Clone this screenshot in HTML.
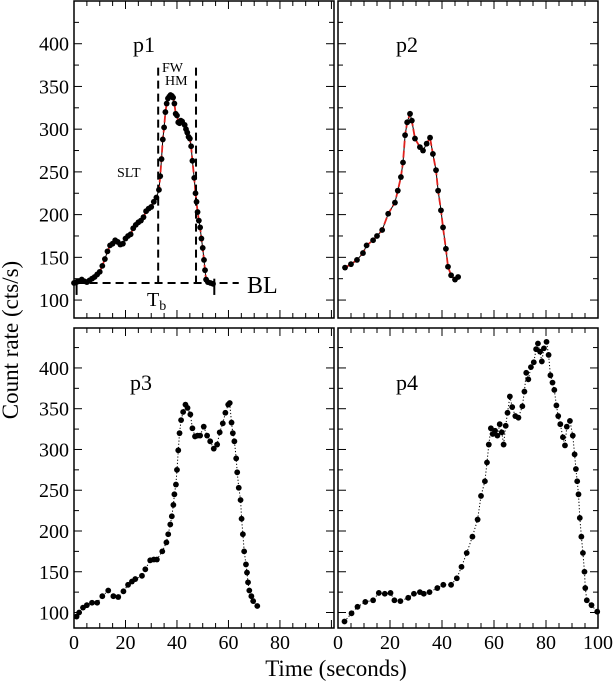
<!DOCTYPE html>
<html><head><meta charset="utf-8"><style>
html,body{margin:0;padding:0;background:#fff;}
svg{display:block;font-family:"Liberation Serif",serif;}
</style></head><body>
<svg id="chart" width="616" height="684" viewBox="0 0 616 684" xmlns="http://www.w3.org/2000/svg">
<text x="0" y="0" font-size="23" text-anchor="middle" transform="translate(18,340) rotate(-90)">Count rate (cts/s)</text>
<text x="336" y="676" font-size="23" text-anchor="middle">Time (seconds)</text>
</svg>
<script>
const yTicks=[100,150,200,250,300,350,400];
const xTicks=[0,20,40,60,80,100];
const panelNames=["p1","p2","p3","p4"];

const t1=[0,1,2,3,4,5,6,7,8,9,10,11,12,13,14,15,16,17,18,19,20,21,22,23,24,25,26,27,28,29,30,31,32,33,33.5,34,34.5,35,35.5,36,36.5,37,37.5,38,38.5,39,39.5,40,40.5,41,41.5,42,43,43.5,44,44.5,45,45.5,46,46.7,47.2,47.6,48,48.5,49,49.5,50,50.5,50.9,51.3,52,53,54];
const c1=[120,121,122,124,122,121,123,125,127,130,133,140,148,157,164,166,170,168,165,166,172,175,177,184,188,191,193,197,204,207,209,215,220,229,245,265,288,302,320,330,336,338,340,339,337,330,318,316,308,307,310,309,305,300,296,291,289,280,263,243,225,215,203,193,185,172,161,147,135,124,121,120,119];

const t2=[2.7,5,7.3,9.6,11,13.5,15,17,19.3,21.9,23,24.2,25,25.8,26.6,27.7,28.4,29.6,31.5,32.7,34.1,35.4,36.5,37.7,38.5,39.6,40.4,41.5,42.3,43.5,45,46.2];
const c2=[138,142,147,155,164,170,175,182,201,214,228,244,261,293,308,318,310,289,279,275,283,290,271,252,228,205,185,160,139,129,124,127];

const t3=[1,2,3.5,5,7,9,11,13.3,15.3,17.2,19.2,21,22.5,23.8,26.4,27.7,29.6,31,32.2,34.3,35.9,36.6,37.4,38,38.6,39,39.6,40,40.5,41,41.6,42.4,43.3,44.1,45.2,46,47,48,49,50.4,51.7,52.9,54.3,55.6,56.6,57.8,58.8,59.9,60.5,61.2,61.7,62.3,63,63.4,64,64.7,65.1,65.6,66.1,66.8,67.2,67.6,68.1,68.9,69.6,71.2];
const c3=[95,100,106,109,112,112,120,127,120,119,126,134,138,141,145,153,164,165,165,175,186,196,208,218,232,245,257,275,299,320,336,346,355,351,343,326,316,317,317,328,317,310,301,306,321,332,345,355,357,333,320,310,289,272,253,238,215,196,175,159,149,137,127,120,114,108];

const t4=[2.5,5.2,7.5,10.5,13.5,15.7,18,20.2,21.7,24,27,29.2,31.5,33,35.2,38.2,40.5,43.5,45.7,47.5,49.5,51.7,53.7,55,56.5,57.3,58,58.8,59.5,60.4,61.3,62.2,63,63.7,64.5,65.2,66.1,67,68.2,69.4,70.9,71.7,72.4,73.2,74.2,75.3,76.2,76.9,77.7,78.4,79.2,80.2,81,81.7,82.5,83.2,84,84.7,85.5,86.5,87.3,88,89.2,90.3,91,91.5,92,92.5,93,93.6,94.2,94.8,95.1,95.7,97.5,99.7];
const c4=[89,99,107,113,115,124,123,124,115,114,118,123,125,123,125,130,134,134,142,156,173,193,214,243,261,284,306,326,319,323,317,331,321,306,329,345,365,352,341,339,353,371,394,386,401,407,423,430,420,408,424,432,416,391,382,373,354,341,331,315,305,328,335,317,294,276,261,245,216,193,173,150,130,115,109,101];

const NS="http://www.w3.org/2000/svg";
const svg=document.getElementById('chart');
function mk(tag,attrs,parent){const e=document.createElementNS(NS,tag);for(const k in attrs)e.setAttribute(k,attrs[k]);(parent||svg).appendChild(e);return e;}

const panels=[
 {x0:74,x1:334,xmax:101,y0:1,y1:318,ymin:79,ymax:450,t:t1,c:c1,fit:true,lbl:[133,52],xl:false},
 {x0:338,x1:598,xmax:100,y0:1,y1:318,ymin:79,ymax:450,t:t2,c:c2,fit:true,lbl:[396,52],xl:false},
 {x0:74,x1:334,xmax:101,y0:328,y1:628,ymin:81,ymax:449,t:t3,c:c3,fit:false,lbl:[130,390],xl:true},
 {x0:338,x1:598,xmax:100,y0:328,y1:628,ymin:81,ymax:449,t:t4,c:c4,fit:false,lbl:[396,390],xl:true}
];

panels.forEach((p,i)=>{
 const g=mk('g',{});
 
 
 const X=v=>p.x0+v*(p.x1-p.x0)/p.xmax;
 const Y=v=>p.y1-(v-p.ymin)*(p.y1-p.y0)/(p.ymax-p.ymin);
 const fr=mk('rect',{x:p.x0,y:p.y0,width:p.x1-p.x0,height:p.y1-p.y0,fill:'none',stroke:'#000','stroke-width':1.5},g);
 
 
 for(let v=100;v<=425;v+=25){
  const major=v%50===0, L=major?8:5, y=Y(v);
  mk('line',{x1:p.x0,x2:p.x0+L,y1:y,y2:y,stroke:'#000','stroke-width':1},g);
  mk('line',{x1:p.x1,x2:p.x1-L,y1:y,y2:y,stroke:'#000','stroke-width':1},g);
 }
 if(i===0||i===2){
  yTicks.forEach(v=>{const t=mk('text',{x:p.x0-5,y:Y(v)+7,'font-size':20,'text-anchor':'end'},g);t.textContent=v;
   
   });
 }
 for(let v=0;v<=p.xmax;v+=5){
  const major=v%20===0, L=major?8:5, x=X(v);
  mk('line',{x1:x,x2:x,y1:p.y1,y2:p.y1-L,stroke:'#000','stroke-width':1},g);
  mk('line',{x1:x,x2:x,y1:p.y0,y2:p.y0+L,stroke:'#000','stroke-width':1},g);
 }
 if(p.xl){
  xTicks.forEach(v=>{ if(i===2&&v===100) return;
   const t=mk('text',{x:X(v),y:p.y1+21,'font-size':20,'text-anchor':'middle'},g);t.textContent=v;
   
   });
 }
 const pts=p.t.map((tv,k)=>X(tv).toFixed(1)+','+Y(p.c[k]).toFixed(1)).join(' ');
 const ln=mk('polyline',{points:pts,fill:'none',stroke:'#000','stroke-width':1,'stroke-dasharray':p.fit?'none':'1.2,2'},g);
 
 
 if(p.fit){
  const f=mk('polyline',{points:pts,fill:'none',stroke:'#e0201c','stroke-width':1.8,'stroke-dasharray':'7,3'},g);
  
  
 }
 p.t.forEach((tv,k)=>{
  const d=mk('circle',{cx:X(tv),cy:Y(p.c[k]),r:2.9,fill:'#000'},g);
  
  
 });
 const lb=mk('text',{x:p.lbl[0],y:p.lbl[1],'font-size':22},g);
 lb.textContent=panelNames[i];
 
 
 if(i===0){
  const a=mk('g',{stroke:'#000','stroke-width':2,'stroke-dasharray':'8,5',fill:'none'},g);
  
  
  mk('line',{x1:X(1),x2:X(64),y1:Y(120),y2:Y(120)},a);
  mk('line',{x1:X(32.7),x2:X(32.7),y1:Y(372),y2:Y(120)},a);
  mk('line',{x1:X(47.4),x2:X(47.4),y1:Y(372),y2:Y(120)},a);
  mk('line',{x1:X(1),x2:X(1),y1:Y(125),y2:Y(106),stroke:'#000','stroke-width':2},g);
  mk('line',{x1:X(54.5),x2:X(54.5),y1:Y(125),y2:Y(106),stroke:'#000','stroke-width':2},g);
  const add=(txt,x,y,fs,name)=>{const t=mk('text',{x:x,y:y,'font-size':fs},g);t.textContent=txt;
   
   return t;};
  add('SLT',117,177,14,'slt-label');
  add('FW',162,72,14,'fw-label');
  add('HM',165,85,14,'hm-label');
  add('BL',247,293,24,'bl-label');
  const tb=mk('text',{x:147,y:306,'font-size':20},g);
  
  
  tb.innerHTML='T<tspan font-size="14" dy="4">b</tspan>';
 }
});
</script>
</body></html>
